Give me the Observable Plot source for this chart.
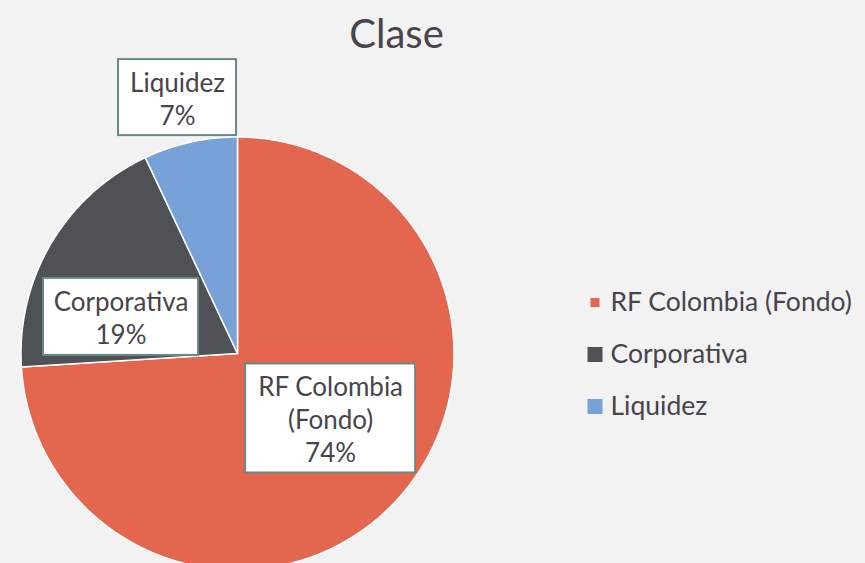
<!DOCTYPE html>
<html>
<head>
<meta charset="utf-8">
<script src="https://cdn.jsdelivr.net/npm/d3@7"></script>
<script src="https://cdn.jsdelivr.net/npm/@observablehq/plot@0.6"></script>
<style>
  html, body { margin: 0; padding: 0; background: #f2f2f2; overflow: hidden; }
  #chart svg { display: block; background: transparent; }
</style>
</head>
<body>
<div id="chart"></div>
<script>
// ---- data ----
const title = "Clase";
const categories = ["RF Colombia (Fondo)", "Corporativa", "Liquidez"];
const shares = [74, 19, 7];
const sliceLabels = ["RF Colombia\n(Fondo)", "Corporativa", "Liquidez"];
const colors = ["#E3664F", "#4E5156", "#78A1D8"];

// ---- layout (pixels / radius units) ----
const W = 865, H = 563;
const cx = 237, cy = 353, R = 216.5;
const labelLayout = [            // box centre relative to pie centre (radius units), box size (px)
  {dx: 0.43, dy: 0.30, w: 170, h: 109},
  {dx: -0.538, dy: -0.169, w: 155, h: 77},
  {dx: -0.277, dy: -1.182, w: 118, h: 76}
];
const legendLayout = {x: 595, textX: 610, y0: 302.5, step: 52, sizes: [9, 15, 15]};

const px = v => (v - cx) / R;   // pixel x -> unit
const py = v => (v - cy) / R;   // pixel y -> unit

// ---- slices ----
const arcs = d3.pie().sort(null).value(d => d.share)(
  categories.map((c, i) => ({cat: c, share: shares[i]}))
);
const slicePts = [];
arcs.forEach(a => {
  const cat = a.data.cat;
  slicePts.push({cat, x: 0, y: 0});
  const n = Math.max(2, Math.ceil((a.endAngle - a.startAngle) / (Math.PI / 360)));
  for (let k = 0; k <= n; k++) {
    const t = a.startAngle + (a.endAngle - a.startAngle) * k / n;
    slicePts.push({cat, x: Math.sin(t), y: -Math.cos(t)});
  }
  slicePts.push({cat, x: 0, y: 0});
});

const labels = categories.map((c, i) => {
  const L = labelLayout[i];
  return {
    cat: c,
    text: sliceLabels[i] + "\n" + shares[i] + "%",
    x: L.dx, y: L.dy,
    x1: L.dx - L.w / 2 / R, x2: L.dx + L.w / 2 / R,
    y1: L.dy - L.h / 2 / R, y2: L.dy + L.h / 2 / R
  };
});

const legend = categories.map((c, i) => {
  const y = legendLayout.y0 + i * legendLayout.step;
  const s = legendLayout.sizes[i];
  return {
    cat: c,
    x1: px(legendLayout.x - s / 2), x2: px(legendLayout.x + s / 2),
    y1: py(y - s / 2), y2: py(y + s / 2),
    tx: px(legendLayout.textX), ty: py(y)
  };
});

const textColor = "#47444c";
const font = "Lato, 'Open Sans', sans-serif";

const chart = Plot.plot({
  width: W, height: H,
  margin: 0,
  style: {background: "transparent", fontFamily: font},
  x: {domain: [px(0), px(W)], range: [0, W], axis: null},
  y: {domain: [py(0), py(H)], range: [0, H], axis: null},
  color: {domain: categories, range: colors},
  marks: [
    Plot.line(slicePts, {x: "x", y: "y", z: "cat", fill: "cat", stroke: "white", strokeWidth: 1.5, strokeLinejoin: "round", clip: true}),
    Plot.rect(labels, {x1: "x1", x2: "x2", y1: "y1", y2: "y2", fill: "white", stroke: "#6A8888", strokeWidth: 2}),
    Plot.text(labels, {x: "x", y: "y", text: "text", fontSize: 26, lineHeight: 1.27, lineAnchor: "middle", fill: textColor}),
    Plot.rect(legend, {x1: "x1", x2: "x2", y1: "y1", y2: "y2", fill: "cat"}),
    Plot.text(legend, {x: "tx", y: "ty", text: "cat", textAnchor: "start", fontSize: 26.5, fill: textColor}),
    Plot.text([title], {x: px(396), y: py(35), text: d => d, fontSize: 40, fill: textColor})
  ]
});
document.getElementById("chart").appendChild(chart);
</script>
</body>
</html>
